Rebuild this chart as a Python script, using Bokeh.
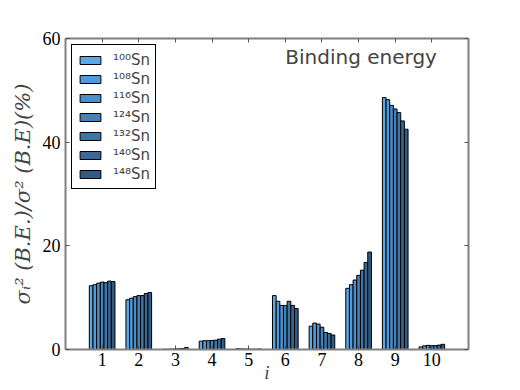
from bokeh.plotting import figure
from bokeh.models import (Range1d, LinearAxis, FixedTicker, Legend, LegendItem,
                          Label, ColumnDataSource, CustomJSTickFormatter)
from bokeh.transform import dodge
from bokeh.embed import file_html
from bokeh.resources import INLINE

# ---- data ----
modes = [1, 2, 3, 4, 5, 6, 7, 8, 9, 10]
isotopes = ["100", "108", "116", "124", "132", "140", "148"]
sn100 = [12.3, 9.6, 0.05, 1.6, 0.15, 10.4, 4.5, 11.8, 48.6, 0.5]
sn108 = [12.5, 9.9, 0.05, 1.7, 0.10, 9.3, 5.1, 12.5, 48.2, 0.7]
sn116 = [12.8, 10.2, 0.08, 1.7, 0.10, 8.5, 4.9, 13.4, 47.1, 0.8]
sn124 = [13.0, 10.4, 0.10, 1.75, 0.05, 8.5, 4.3, 14.3, 46.4, 0.75]
sn132 = [12.9, 10.4, 0.15, 1.8, 0.05, 9.3, 3.3, 15.3, 45.7, 0.75]
sn140 = [13.2, 10.8, 0.20, 2.0, 0.05, 8.5, 3.1, 16.8, 44.1, 0.85]
sn148 = [13.1, 11.0, 0.40, 2.1, 0.10, 7.9, 2.8, 18.8, 42.5, 1.0]
series = [sn100, sn108, sn116, sn124, sn132, sn140, sn148]
colors = ["#5AA8E6", "#529BD8", "#4C8EC8", "#4682B8", "#4075A6", "#396895", "#335A83"]
x_ticks = modes
y_ticks = [0, 20, 40, 60]
title_text = "Binding energy"

sup = str.maketrans("0123456789", "\u2070\u00b9\u00b2\u00b3\u2074\u2075\u2076\u2077\u2078\u2079")

p = figure(frame_width=403, frame_height=311, output_backend="svg",
           toolbar_location=None, x_range=Range1d(0, 11), y_range=Range1d(0, 60),
           min_border_left=65, min_border_right=44, min_border_top=38,
           min_border_bottom=36)
p.grid.visible = False
p.outline_line_color = None
p.background_fill_color = "white"

src = ColumnDataSource(dict(i=modes, **{f"s{k}": s for k, s in enumerate(series)}))
bar_w = 0.1
items = []
for k, (iso, col) in enumerate(zip(isotopes, colors)):
    off = (k - 3) * bar_w
    r = p.vbar(x=dodge("i", off, range=p.x_range), top=f"s{k}", width=bar_w,
               bottom=0, source=src, fill_color=col, line_color="black",
               line_width=1)
    items.append(LegendItem(label=iso.translate(sup) + "Sn", renderers=[r]))

legend = Legend(items=items, location="top_left", margin=6, padding=5,
                spacing=0, label_height=19, glyph_height=10, glyph_width=26,
                label_standoff=10, label_text_font="DejaVu Sans",
                label_text_font_size="15px", border_line_color="black",
                border_line_width=1, border_line_alpha=1,
                background_fill_color="white", background_fill_alpha=1)
p.add_layout(legend)

p.add_layout(Label(x=6.0, y=56.4, text=title_text, text_font="DejaVu Sans",
                   text_font_size="20px", text_baseline="alphabetic"))

frame_col = "#808080"
tick_font = "Liberation Serif"

# axes
xa = p.xaxis[0]
ya = p.yaxis[0]
xa.ticker = FixedTicker(ticks=x_ticks)
ya.ticker = FixedTicker(ticks=y_ticks)
xa.axis_label = "i"
ya.axis_label = "\u03c3\u1d62\u00b2 (B.E.)/\u03c3\u00b2 (B.E)(%)"

top_ax = LinearAxis(ticker=FixedTicker(ticks=x_ticks),
                    formatter=CustomJSTickFormatter(code="return ''"))
right_ax = LinearAxis(ticker=FixedTicker(ticks=y_ticks),
                      formatter=CustomJSTickFormatter(code="return ''"))
p.add_layout(top_ax, "above")
p.add_layout(right_ax, "right")

for ax in [xa, ya, top_ax, right_ax]:
    ax.axis_line_color = frame_col
    ax.axis_line_width = 2
    ax.major_tick_in = 4
    ax.major_tick_out = 0
    ax.major_tick_line_color = "#555555"
    ax.minor_tick_line_color = None
    ax.major_label_text_font = tick_font
    ax.major_label_text_font_size = "18px"
    ax.major_label_text_color = "black"
    ax.major_label_standoff = 5

for ax in [top_ax, right_ax]:
    ax.major_label_text_font_size = "0px"
    ax.major_label_standoff = 0

xa.major_label_standoff = 3
xa.axis_label_text_font = tick_font
xa.axis_label_text_font_style = "italic"
xa.axis_label_text_font_size = "19px"
xa.axis_label_standoff = -7
ya.axis_label_text_font = "DejaVu Serif"
ya.axis_label_text_font_style = "italic"
ya.axis_label_text_font_size = "21px"
ya.axis_label_standoff = 5

open("out.html", "w").write(file_html(p, INLINE))
